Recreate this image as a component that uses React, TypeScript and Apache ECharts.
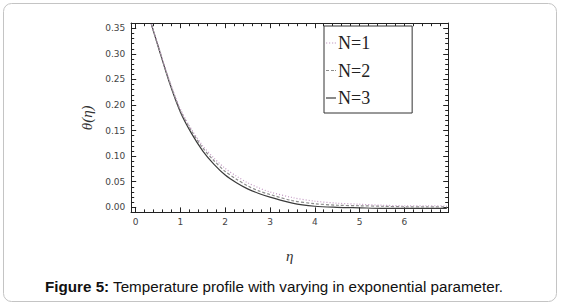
import React, { useEffect, useRef } from "react";
import * as echarts from "echarts";

const eta = [0.35, 0.5, 0.75, 1.0, 1.25, 1.5, 1.75, 2.0, 2.25, 2.5, 2.75, 3.0, 3.5, 4.0, 4.5, 5.0, 5.5, 6.0, 6.5, 6.95];
const thetaN1 = [0.358, 0.317, 0.249, 0.192, 0.152, 0.12, 0.096, 0.076, 0.061, 0.048, 0.038, 0.03, 0.019, 0.012, 0.008, 0.006, 0.004, 0.003, 0.003, 0.003];
const thetaN2 = [0.358, 0.316, 0.247, 0.189, 0.149, 0.116, 0.091, 0.07, 0.055, 0.042, 0.032, 0.025, 0.013, 0.007, 0.004, 0.003, 0.002, 0.001, 0.001, 0.001];
const thetaN3 = [0.358, 0.315, 0.245, 0.186, 0.144, 0.11, 0.084, 0.063, 0.048, 0.036, 0.027, 0.02, 0.008, 0.002, 0.0, -0.001, -0.002, -0.002, -0.002, -0.002];
const seriesNames = ["N=1", "N=2", "N=3"];
const xMajorTicks = [0, 1, 2, 3, 4, 5, 6];
const xMinorTicks = [0.2, 0.4, 0.6, 0.8, 1.2, 1.4, 1.6, 1.8, 2.2, 2.4, 2.6, 2.8, 3.2, 3.4, 3.6, 3.8, 4.2, 4.4, 4.6, 4.8, 5.2, 5.4, 5.6, 5.8, 6.2, 6.4, 6.6, 6.8];
const yMajorTicks = [0, 0.05, 0.1, 0.15, 0.2, 0.25, 0.3, 0.35];
const yMinorTicks = [-0.01, 0.01, 0.02, 0.03, 0.04, 0.06, 0.07, 0.08, 0.09, 0.11, 0.12, 0.13, 0.14, 0.16, 0.17, 0.18, 0.19, 0.21, 0.22, 0.23, 0.24, 0.26, 0.27, 0.28, 0.29, 0.31, 0.32, 0.33, 0.34];
const caption = "Temperature profile with varying in exponential parameter.";

const X_MIN = -0.1;
const X_MAX = 6.98;
const Y_MIN = -0.01;
const Y_MAX = 0.36;

const frameColor = "#222";
const labelFont = { fontFamily: "DejaVu Sans", fontSize: 9, color: "#444" };

const legendIcons = [
  "path://M0,0H1.2V1.2H0Z M3,0H4.2V1.2H3Z M6,0H7.2V1.2H6Z M8.8,0H10V1.2H8.8Z",
  "path://M0,0H3V1.2H0Z M5,0H8V1.2H5Z M9,0H10V1.2H9Z",
  "path://M0,0H10V1.2H0Z",
];

function xAxisDef(position: "bottom" | "top", values: number[], len: number, labels: boolean, name?: string) {
  return {
    type: "value",
    position,
    min: X_MIN,
    max: X_MAX,
    axisLine: { show: true, onZero: false, lineStyle: { color: frameColor, width: 1 } },
    axisTick: { show: true, inside: true, length: len, customValues: values, lineStyle: { color: frameColor, width: 1 } },
    axisLabel: labels
      ? { show: true, customValues: values, margin: 5, ...labelFont, formatter: (v: number) => String(v) }
      : { show: false },
    splitLine: { show: false },
    name: name || "",
    nameLocation: "middle",
    nameGap: 36,
    nameTextStyle: { fontFamily: "Liberation Serif", fontStyle: "italic", fontSize: 15, color: "#333" },
  };
}

function yAxisDef(position: "left" | "right", values: number[], len: number, labels: boolean, name?: string) {
  return {
    type: "value",
    position,
    min: Y_MIN,
    max: Y_MAX,
    axisLine: { show: true, onZero: false, lineStyle: { color: frameColor, width: 1 } },
    axisTick: { show: true, inside: true, length: len, customValues: values, lineStyle: { color: frameColor, width: 1 } },
    axisLabel: labels
      ? { show: true, customValues: values, margin: 6, ...labelFont, formatter: (v: number) => v.toFixed(2) }
      : { show: false },
    splitLine: { show: false },
    name: name || "",
    nameLocation: "middle",
    nameGap: 33,
    nameRotate: 90,
    nameTextStyle: { fontFamily: "Liberation Serif", fontStyle: "italic", fontSize: 15, color: "#333" },
  };
}

export default function App() {
  const ref = useRef<HTMLDivElement>(null);

  useEffect(() => {
    if (!ref.current) return;
    const chart = echarts.init(ref.current, undefined, { renderer: "svg" });
    const values = [thetaN1, thetaN2, thetaN3];
    const styles = [
      { color: "#c49ac4", type: [1, 2], width: 1.2 },
      { color: "#8c8c8c", type: [3, 2], width: 1.2 },
      { color: "#3a3a3a", type: "solid", width: 1.2 },
    ];
    chart.setOption({
      animation: false,
      backgroundColor: "#ffffff",
      grid: { left: 131.2, top: 23.2, width: 317, height: 189.2, outerBoundsMode: "none", containLabel: false },
      xAxis: [
        xAxisDef("bottom", xMajorTicks, 5, true, "η"),
        xAxisDef("bottom", xMinorTicks, 3, false),
        xAxisDef("top", xMajorTicks, 5, false),
        xAxisDef("top", xMinorTicks, 3, false),
      ],
      yAxis: [
        yAxisDef("left", yMajorTicks, 5, true, "θ(η)"),
        yAxisDef("left", yMinorTicks, 3, false),
        yAxisDef("right", yMajorTicks, 5, false),
        yAxisDef("right", yMinorTicks, 3, false),
      ],
      legend: {
        show: true,
        orient: "vertical",
        left: 324,
        top: 26,
        data: seriesNames.map((n, i) => ({ name: n, icon: legendIcons[i] })),
        itemWidth: 10,
        itemHeight: 16,
        itemGap: 9.5,
        symbolKeepAspect: true,
        padding: [8, 42, 6, 2],
        borderColor: "#333",
        borderWidth: 1,
        backgroundColor: "#fff",
        textStyle: { fontFamily: "Liberation Serif", fontSize: 18, lineHeight: 16, color: "#222", padding: [0, 0, 0, -3] },
      },
      series: seriesNames.map((n, i) => ({
        name: n,
        type: "line",
        xAxisIndex: 0,
        yAxisIndex: 0,
        data: eta.map((x, j) => [x, values[i][j]]),
        smooth: 0.3,
        symbol: "none",
        showSymbol: false,
        clip: true,
        lineStyle: styles[i],
        itemStyle: { color: styles[i].color },
        z: 3 - i + 2,
      })),
      graphic: [
        {
          type: "rect",
          shape: { x: 3.5, y: 3.5, width: 553, height: 298, r: 8 },
          style: { fill: "none", stroke: "#c4c4c4", lineWidth: 1 },
          silent: true,
          z: -1,
        },
        {
          type: "text",
          x: 45,
          y: 286,
          style: {
            text: "{b|Figure 5:} " + caption,
            rich: {
              b: { fontFamily: "Liberation Sans", fontSize: 15.2, fontWeight: "bold", fill: "#111" },
            },
            fontFamily: "Liberation Sans",
            fontSize: 15.2,
            fill: "#111",
            verticalAlign: "middle",
          },
        },
      ],
    });
    return () => chart.dispose();
  }, []);

  return (
    <div
      ref={ref}
      style={{ position: "fixed", left: 0, top: 0, width: 561, height: 306, background: "#fff" }}
    />
  );
}
